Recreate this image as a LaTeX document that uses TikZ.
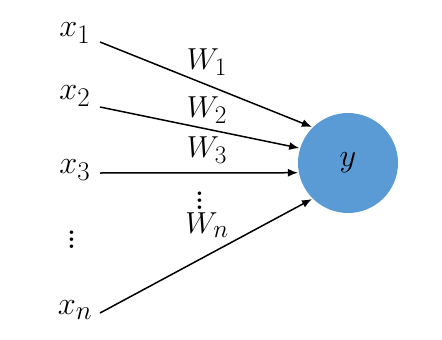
\documentclass[tikz,border=0pt]{standalone}
\usetikzlibrary{arrows.meta}
\begin{document}
\begin{tikzpicture}[x=1pt,y=-1pt,
  lbl/.style={inner sep=0pt,font=\Huge,scale=1.3},
  wlbl/.style={inner sep=0pt,font=\Huge,scale=1.22},
  dotsl/.style={inner sep=0pt,font=\Huge,scale=1.75},
  conn/.style={line width=1.5pt,-{Latex[length=10pt,width=8pt]}},
  neuron/.style={circle,fill=nblue,minimum size=100pt,inner sep=0pt,outer sep=1pt}]
\definecolor{nblue}{HTML}{5B9BD5}
\useasboundingbox (0,0) rectangle (442,340);
\node[neuron] (y) at (348,163) {};
\node[lbl] (yl) at (y.center) {$y$};
\node[lbl] (x1) at (75,33) {$x_1$};
\node[lbl] (x2) at (75,96) {$x_2$};
\node[lbl] (x3) at (75,170) {$x_3$};
\node[dotsl] (xd) at (72,234) {$\vdots$};
\node[lbl] (xn) at (75,310) {$x_n$};
\coordinate (s1) at (100,42);
\coordinate (s2) at (100,107);
\coordinate (s3) at (100,173);
\coordinate (sn) at (100,313);
\node[wlbl] (w1) at (207,62) {$W_1$};
\node[wlbl] (w2) at (207,110) {$W_2$};
\node[wlbl] (w3) at (207,150) {$W_3$};
\node[dotsl] (wd) at (200,195) {$\vdots$};
\node[wlbl] (wn) at (207,225) {$W_n$};
\draw[conn] (s1) -- (y.135);
\draw[conn] (s2) -- (y.163);
\draw[conn] (s3) -- (y.191);
\draw[conn] (sn) -- (y.225);
\end{tikzpicture}
\end{document}
